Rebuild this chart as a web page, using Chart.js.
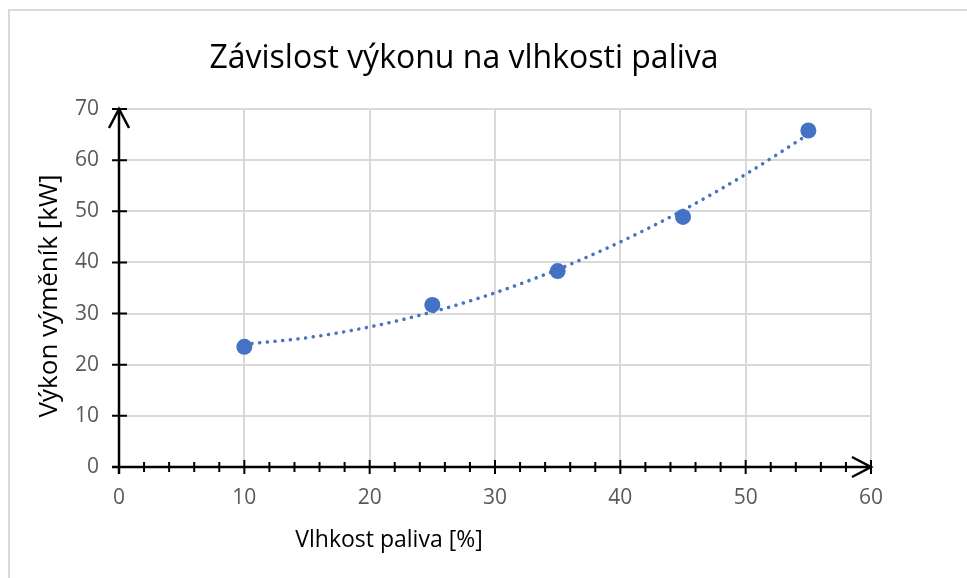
<!DOCTYPE html>
<html lang="cs">
<head>
  <meta charset="UTF-8">
  <title>Závislost výkonu na vlhkosti paliva</title>
  <script src="https://cdn.jsdelivr.net/npm/chart.js"></script>
  <style>
    * { margin: 0; padding: 0; box-sizing: border-box; }
    body { background: #fff; }
    #chart { display: block; }
  </style>
</head>
<body>
  <canvas id="chart" width="967" height="578"></canvas>
  <script>
    // --- data ---
    const moisture = [10, 25, 35, 45, 55];              // Vlhkost paliva [%]
    const power = [23.5, 31.7, 38.3, 48.9, 65.8];       // Výkon výměník [kW]

    // dotted trendline (2nd order polynomial in the original)
    const trendX = [10, 15, 20, 25, 30, 35, 40, 45, 50, 55];
    const trendY = [23.99, 25.28, 27.39, 30.32, 34.06, 38.63, 44.01, 50.21, 57.23, 65.06];

    const xRange = [0, 60];
    const yRange = [0, 70];
    const majorStep = 10;
    const xMinorStep = 2;

    const titleText = 'Závislost výkonu na vlhkosti paliva';
    const xTitle = 'Vlhkost paliva [%]';
    const yTitle = 'Výkon výměník [kW]';

    const FONT = '"Open Sans", "Noto Sans", sans-serif';
    const BLUE = '#4472C4';

    // frame + texts
    const decorPlugin = {
      id: 'decor',
      beforeDraw(chart) {
        const c = chart.ctx;
        c.save();
        c.strokeStyle = '#d9d9d9';
        c.lineWidth = 2;
        c.beginPath();
        c.moveTo(9, 578);
        c.lineTo(9, 10);
        c.lineTo(967, 10);
        c.stroke();
        c.restore();
      },
      afterDraw(chart) {
        const c = chart.ctx;
        c.save();
        c.fillStyle = '#000';
        c.textAlign = 'center';
        c.textBaseline = 'alphabetic';
        c.font = '32px ' + FONT;
        c.fillText(titleText, 464, 68);
        c.font = '23px ' + FONT;
        c.fillText(xTitle, 389, 547);
        c.font = '26px ' + FONT;
        c.translate(57, 296);
        c.rotate(-Math.PI / 2);
        c.fillText(yTitle, 0, 0);
        c.restore();
      }
    };

    // black axes with arrows and crossing ticks
    const axesPlugin = {
      id: 'axes',
      beforeDatasetsDraw(chart) {
        const c = chart.ctx;
        const xs = chart.scales.x, ys = chart.scales.y;
        const x0 = xs.getPixelForValue(xRange[0]);
        const x1 = xs.getPixelForValue(xRange[1]);
        const y0 = ys.getPixelForValue(yRange[0]);
        const y1 = ys.getPixelForValue(yRange[1]);
        c.save();
        c.strokeStyle = '#000';
        c.lineCap = 'butt';
        // axis lines
        c.lineWidth = 2.5;
        c.beginPath();
        c.moveTo(x0 - 7, y0); c.lineTo(x1, y0);
        c.moveTo(x0, y0 + 7); c.lineTo(x0, y1);
        c.stroke();
        // arrow heads
        c.beginPath();
        c.moveTo(x1 - 19, y0 - 10); c.lineTo(x1, y0); c.lineTo(x1 - 19, y0 + 10);
        c.moveTo(x0 - 10, y1 + 19); c.lineTo(x0, y1); c.lineTo(x0 + 10, y1 + 19);
        c.stroke();
        // ticks
        c.lineWidth = 2;
        c.beginPath();
        for (let v = xRange[0]; v <= xRange[1]; v += xMinorStep) {
          const px = xs.getPixelForValue(v);
          const h = v % majorStep === 0 ? 7 : 5;
          c.moveTo(px, y0 - h); c.lineTo(px, y0 + h);
        }
        for (let v = yRange[0]; v <= yRange[1]; v += majorStep) {
          const py = ys.getPixelForValue(v);
          c.moveTo(x0 - 7, py); c.lineTo(x0 + 8, py);
        }
        c.stroke();
        c.restore();
      }
    };

    const gridStyle = {
      color: '#d9d9d9',
      lineWidth: 2,
      drawTicks: false
    };
    const tickFont = { family: FONT, size: 21 };

    new Chart(document.getElementById('chart'), {
      type: 'scatter',
      data: {
        datasets: [
          {
            label: 'Trend',
            data: trendX.map((x, i) => ({ x: x, y: trendY[i] })),
            showLine: true,
            borderColor: BLUE,
            borderWidth: 3.5,
            borderDash: [0.1, 7.6],
            borderCapStyle: 'round',
            cubicInterpolationMode: 'monotone',
            pointRadius: 0,
            pointHoverRadius: 0,
            fill: false
          },
          {
            label: 'Výkon',
            data: moisture.map((x, i) => ({ x: x, y: power[i] })),
            backgroundColor: BLUE,
            borderColor: BLUE,
            pointRadius: 8,
            pointHoverRadius: 8,
            borderWidth: 0
          }
        ]
      },
      options: {
        responsive: false,
        animation: false,
        devicePixelRatio: 1,
        layout: { padding: { top: 109, right: 96, left: 0, bottom: 0 } },
        plugins: {
          legend: { display: false },
          tooltip: { enabled: false },
          title: { display: false }
        },
        scales: {
          x: {
            type: 'linear',
            min: xRange[0],
            max: xRange[1],
            grid: gridStyle,
            border: { display: false },
            ticks: { stepSize: majorStep, color: '#595959', font: tickFont, padding: 18 },
            afterFit(s) { s.height = 111; }
          },
          y: {
            type: 'linear',
            min: yRange[0],
            max: yRange[1],
            grid: gridStyle,
            border: { display: false },
            ticks: { stepSize: majorStep, color: '#595959', font: tickFont, padding: 20 },
            afterFit(s) { s.width = 119; }
          }
        }
      },
      plugins: [decorPlugin, axesPlugin]
    });
  </script>
</body>
</html>
